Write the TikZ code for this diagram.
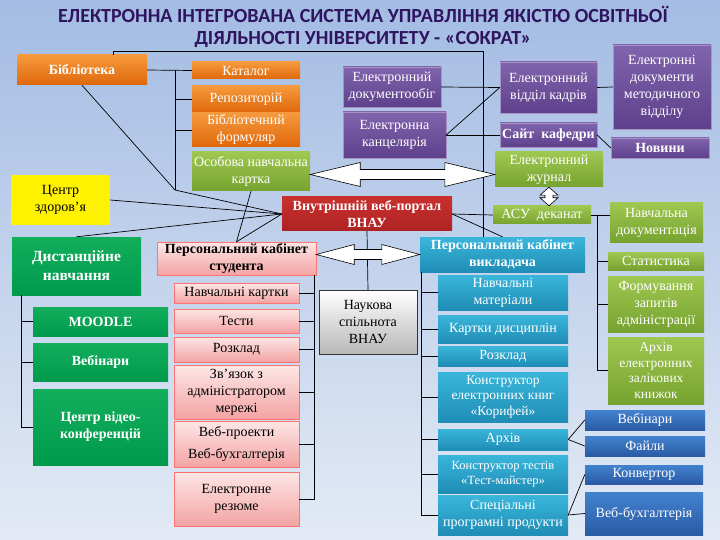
\documentclass[tikz,border=0pt]{standalone}
\usepackage{fontspec}
\setmainfont{Liberation Serif}
\newfontfamily\titlefont{Carlito}
\usetikzlibrary{calc}

\definecolor{bgtop}{HTML}{A3BCE3}
\definecolor{bgbot}{HTML}{E3EAF5}
\definecolor{ttl}{HTML}{2F1460}
\definecolor{ortop}{HTML}{F59A3C}
\definecolor{orbot}{HTML}{E0670C}
\definecolor{grtop}{HTML}{12AE5C}
\definecolor{grbot}{HTML}{009A4C}
\definecolor{lgtop}{HTML}{9FC851}
\definecolor{lgbot}{HTML}{76A22F}
\definecolor{putop}{HTML}{8064AC}
\definecolor{pubot}{HTML}{5E408C}
\definecolor{rdtop}{HTML}{C9302E}
\definecolor{rdbot}{HTML}{AE2224}
\definecolor{pktop}{HTML}{FDE6E6}
\definecolor{pkbot}{HTML}{F4A3A3}
\definecolor{tltop}{HTML}{3AB6DB}
\definecolor{tlbot}{HTML}{1F8DB6}
\definecolor{bltop}{HTML}{4382CF}
\definecolor{blbot}{HTML}{2A5BA4}

\tikzset{
  box/.style={inner sep=1pt, align=center, font=\fontsize{14}{17}\selectfont},
  bbox/.style={box, font=\bfseries\fontsize{14}{17}\selectfont},
  orbox/.style={box, top color=ortop, bottom color=orbot, text=white},
  grbox/.style={box, top color=grtop, bottom color=grbot, text=white},
  lgbox/.style={box, top color=lgtop, bottom color=lgbot, text=white},
  pubox/.style={box, top color=putop, bottom color=pubot, draw=putop!70!white, text=white},
  rdbox/.style={box, top color=rdtop, bottom color=rdbot, text=white},
  pkbox/.style={box, top color=pktop, bottom color=pkbot, draw=red!55, text=black},
  tlbox/.style={box, top color=tltop, bottom color=tlbot, text=white},
  blbox/.style={box, top color=bltop, bottom color=blbot, text=white},
  gybox/.style={box, top color=white, bottom color=black!28, draw=black!80, text=black},
  ylbox/.style={box, fill=yellow, text=black},
  link/.style={draw=black, line width=0.7pt},
  bigarrow/.style={draw=black, fill=white, line width=0.6pt}
}

\begin{document}
\begin{tikzpicture}[x=1pt, y=-1pt]
\useasboundingbox (0,0) rectangle (720,540);
\fill[top color=bgtop, bottom color=bgbot] (0,0) rectangle (720,540);

% title
\node[text=ttl, align=center, font=\titlefont\bfseries\fontsize{20}{21.5}\selectfont] (title) at (363,27)
  {ЕЛЕКТРОННА ІНТЕГРОВАНА СИСТЕМА УПРАВЛІННЯ ЯКІСТЮ ОСВІТНЬОЇ\\ДІЯЛЬНОСТІ УНІВЕРСИТЕТУ - «СОКРАТ»};

% library
\node[orbox, bbox, minimum width=130, minimum height=30] (bib) at (82,70) {Бібліотека};
\node[orbox, minimum width=108, minimum height=17] (katalog) at (246,70.5) {Каталог};
\node[orbox, minimum width=108, minimum height=26] (repo) at (246,99) {Репозиторій};
\node[orbox, minimum width=108, minimum height=34] (formul) at (246,130) {Бібліотечний\\формуляр};
\node[lgbox, minimum width=118, minimum height=39] (osob) at (251,171.5) {Особова навчальна\\картка};
\node[ylbox, minimum width=99, minimum height=50] (health) at (60.5,200) {Центр\\здоров’я};

% distance learning
\node[grbox, minimum width=129, minimum height=58, font=\bfseries\fontsize{15.5}{19}\selectfont] (dist) at (76.5,266) {Дистанційне\\навчання};
\node[grbox, bbox, minimum width=135, minimum height=29] (moodle) at (100.5,321.5) {MOODLE};
\node[grbox, bbox, minimum width=135, minimum height=38] (webin) at (100.5,362) {Вебінари};
\node[grbox, bbox, minimum width=135, minimum height=76] (video) at (100.5,427) {Центр відео-\\конференцій};

% student
\node[pkbox, bbox, minimum width=159, minimum height=33] (stud) at (236.5,258.5) {Персональний кабінет\\студента};
\node[pkbox, minimum width=125, minimum height=20] (s1) at (236.5,293) {Навчальні картки};
\node[pkbox, minimum width=125, minimum height=24] (s2) at (236.5,321) {Тести};
\node[pkbox, minimum width=125, minimum height=25] (s3) at (236.5,349.5) {Розклад};
\node[pkbox, minimum width=125, minimum height=54] (s4) at (236.5,392) {Зв'язок з\\адміністратором\\мережі};
\node[pkbox, minimum width=125, minimum height=46] (s5) at (236.5,444) {Веб-проекти\\[5pt]Веб-бухгалтерія};
\node[pkbox, minimum width=125, minimum height=54] (s6) at (236.5,499) {Електронне\\резюме};

% portal and top row
\node[rdbox, bbox, minimum width=170, minimum height=34] (portal) at (367,214) {Внутрішній веб-портал\\ВНАУ};
\node[pubox, minimum width=98, minimum height=40] (docflow) at (392,87) {Електронний\\документообіг};
\node[pubox, minimum width=103, minimum height=46] (kanc) at (394.5,135) {Електронна\\канцелярія};
\node[pubox, minimum width=97, minimum height=51] (kadry) at (548.5,87.5) {Електронний\\відділ кадрів};
\node[pubox, bbox, minimum width=97, minimum height=24] (site) at (548.5,135) {Сайт\ \ кафедри};
\node[pubox, minimum width=98, minimum height=84] (metod) at (662,87) {Електронні\\документи\\методичного\\відділу};
\node[pubox, bbox, minimum width=98, minimum height=20] (news) at (660,148) {Новини};
\node[lgbox, minimum width=108, minimum height=35] (journal) at (549,169.5) {Електронний\\журнал};
\node[lgbox, minimum width=98, minimum height=18] (asu) at (542,215) {АСУ\ \ деканат};
\node[lgbox, minimum width=93, minimum height=39] (navdoc) at (656.5,222.5) {Навчальна\\документація};
\node[lgbox, minimum width=96, minimum height=18] (stat) at (656,261) {Статистика};
\node[lgbox, minimum width=96, minimum height=56] (zapyty) at (656,304) {Формування\\запитів\\адміністрації};
\node[lgbox, minimum width=96, minimum height=67, font=\fontsize{13.5}{15.5}\selectfont] (zalik) at (656,370.5) {Архів\\електронних\\залікових\\книжок};

% teacher
\node[tlbox, bbox, minimum width=165, minimum height=35] (teach) at (502.5,254.5) {Персональний кабінет\\викладача};
\node[tlbox, minimum width=130, minimum height=35] (t1) at (503,292.5) {Навчальні\\матеріали};
\node[tlbox, minimum width=130, minimum height=28] (t2) at (503,329) {Картки дисциплін};
\node[tlbox, minimum width=130, minimum height=20] (t3) at (503,356) {Розклад};
\node[tlbox, minimum width=130, minimum height=50, font=\fontsize{13.5}{15.5}\selectfont] (t4) at (503,397) {Конструктор\\електронних книг\\«Корифей»};
\node[tlbox, minimum width=130, minimum height=21] (t5) at (503,439.5) {Архів};
\node[tlbox, minimum width=130, minimum height=38, font=\fontsize{12.5}{15}\selectfont] (t6) at (503,474) {Конструктор тестів\\«Тест-майстер»};
\node[tlbox, minimum width=130, minimum height=40] (t7) at (503,515) {Спеціальні\\програмні продукти};
\node[blbox, minimum width=120, minimum height=20] (arcweb) at (645,420) {Вебінари};
\node[blbox, minimum width=120, minimum height=20] (files) at (645,446) {Файли};
\node[blbox, minimum width=118, minimum height=19] (conv) at (644,474.5) {Конвертор};
\node[blbox, minimum width=118, minimum height=43] (buh) at (644,513.5) {Веб-бухгалтерія};

% science
\node[gybox, minimum width=98, minimum height=64] (sci) at (368,322) {Наукова\\спільнота\\ВНАУ};

% library links
\coordinate (bj) at (175,190);
\draw[link] (bib.east) -- (katalog.west);
\draw[link] (bj |- katalog.west) -- (bj);
\foreach \n in {repo,formul} \draw[link] (bj |- \n.west) -- (\n.west);
\draw[link] (bib.south) -- (bj) -- (portal.west);
\draw[link] ([xshift=31]bib.north) -- ++(0,-3) -| ([xshift=-19.5]teach.north);

% links to portal
\draw[link] (health.east) -- (portal.west);
\draw[link] (dist.north) -- (portal.west);
\draw[link] (stud.north) -- (osob.south);
\draw[link] (stud.north) -- (portal.west);
\draw[link] (portal.east) -- (asu.west);
\draw[link] (portal.east) -- (teach.north);
\draw[link] (portal.south) -- (sci.north);

% purple links
\draw[link] (docflow.east) -- (kadry.west);
\draw[link] (kanc.east) -- (site.west);
\draw[link] (kanc.east) -- (kadry.west);
\draw[link] (kadry.east) -- (metod.west);
\draw[link] (site.east) -- (news.west);

% brackets
\draw[link] ([xshift=-55.5]dist.south) |- (video.west);
\foreach \n in {moodle,webin} \draw[link] (\n.west) -- ++(-12,0);
\draw[link] ([xshift=-1.5]stud.south east) |- (s6.east);
\foreach \n in {s1,s2,s3,s4,s5} \draw[link] (\n.east) -- ++(15.5,0);
\draw[link] ([xshift=2]teach.south west) |- (t7.west);
\foreach \n in {t1,t2,t3,t4,t5,t6} \draw[link] (\n.west) -- ++(-16,0);
\draw[link] (asu.east) -- (asu.east -| navdoc.west);
\draw[link] ([xshift=6]asu.east) |- (zalik.west);
\foreach \n in {stat,zapyty} \draw[link] (\n.west) -- ++(-11,0);
\draw[link] (t5.east) -- (arcweb.west);
\draw[link] (t5.east) -- (files.west);
\draw[link] (t7.east) -- (conv.west);
\draw[link] (t7.east) -- (buh.west);

% double arrows
\coordinate (oa) at ([yshift=-3]osob.east);
\coordinate (ob) at (oa -| journal.west);
\draw[bigarrow] (oa) -- ++(50,-12) -- ++(0,7) -- ($(ob)+(-50,-5)$) -- ++(0,-7) -- (ob)
  -- ++(-50,12) -- ++(0,-7) -- ($(oa)+(50,5)$) -- ++(0,7) -- cycle;
\coordinate (sa) at (stud.east |- teach.west);
\draw[bigarrow] (sa) -- ++(38,-10) -- ++(0,5) -- ($(teach.west)+(-38,-5)$) -- ++(0,-5) -- (teach.west)
  -- ++(-38,10) -- ++(0,-5) -- ($(sa)+(38,5)$) -- ++(0,5) -- cycle;
\coordinate (ja) at (journal.south);
\coordinate (jb) at (ja |- asu.north);
\draw[bigarrow] (ja) -- ++(-9,8) -- ++(5,0) -- ($(jb)+(-4,-8)$) -- ++(-5,0) -- (jb)
  -- ++(9,-8) -- ++(-5,0) -- ($(ja)+(4,8)$) -- ++(5,0) -- cycle;
\end{tikzpicture}
\end{document}
